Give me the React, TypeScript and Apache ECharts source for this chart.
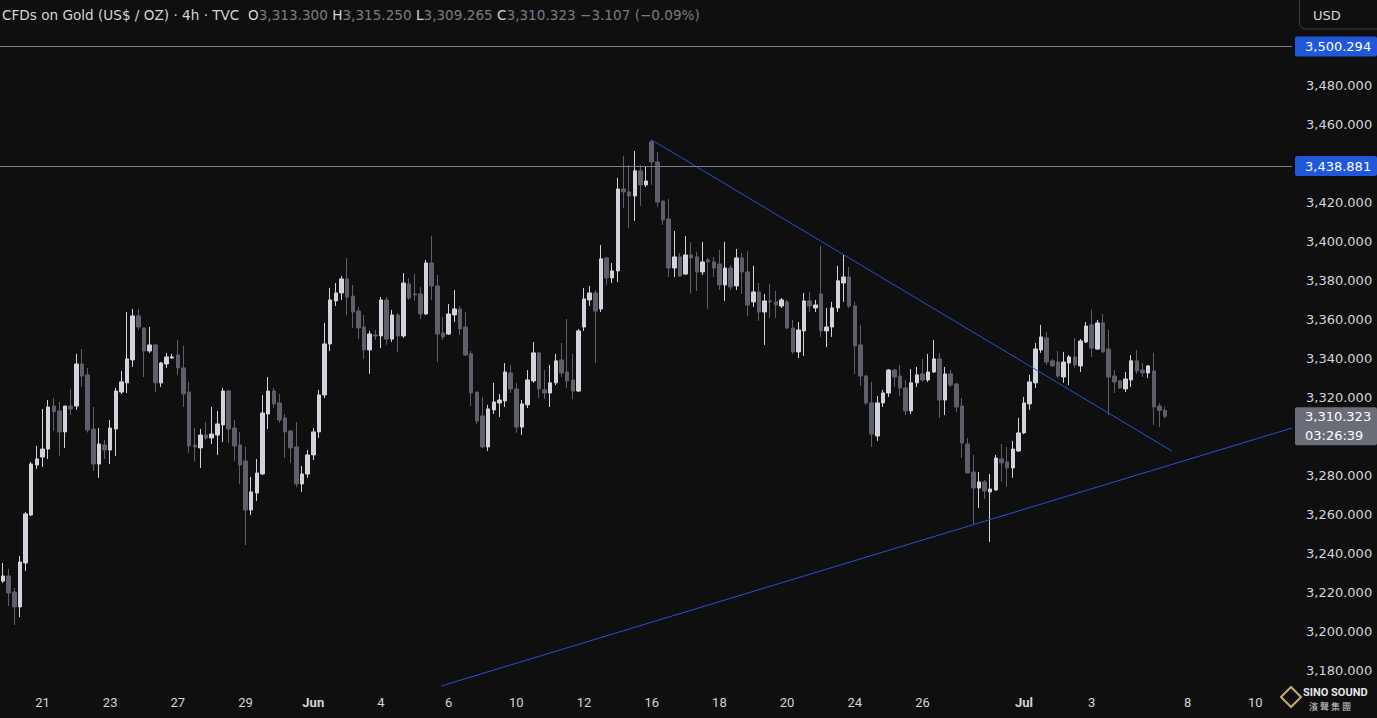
import React, { useEffect, useRef } from "react";
import * as echarts from "echarts";

// ---------- data ----------
const SYMBOL_TITLE = "CFDs on Gold (US$ / OZ) · 4h · TVC";
const SLOT_COUNT = 229; // candle slots incl. empty future space
const COUNTDOWN = "03:26:39";

// [open, close, low, high]
const candles: number[][] = [
  [3225.7, 3228.3, 3224.7, 3235.0], [3228.3, 3219.6, 3212.9, 3231.9], [3220.1, 3212.4, 3203.1, 3222.1], [3212.4, 3235.5, 3207.2, 3238.6],
  [3235.0, 3260.2, 3230.9, 3261.2], [3259.6, 3285.8, 3259.1, 3286.9], [3285.3, 3288.4, 3283.3, 3295.1], [3289.4, 3293.5, 3284.3, 3314.1],
  [3293.5, 3315.1, 3288.4, 3318.7], [3315.6, 3312.6, 3302.8, 3319.7], [3313.1, 3302.3, 3290.0, 3317.7], [3302.3, 3315.6, 3294.0, 3315.6],
  [3315.6, 3314.1, 3311.0, 3324.4], [3315.6, 3337.2, 3313.6, 3342.4], [3337.2, 3331.0, 3325.4, 3344.9], [3331.6, 3303.3, 3302.0, 3335.2],
  [3303.8, 3285.8, 3282.3, 3315.1], [3285.8, 3296.1, 3278.7, 3304.3], [3295.6, 3293.0, 3288.4, 3298.2], [3293.0, 3304.3, 3285.8, 3308.4],
  [3303.8, 3323.3, 3290.0, 3324.9], [3322.8, 3328.0, 3321.8, 3333.6], [3327.5, 3339.8, 3322.3, 3363.9], [3339.3, 3361.9, 3335.7, 3365.5],
  [3361.9, 3356.2, 3354.7, 3365.5], [3355.7, 3343.9, 3330.5, 3355.7], [3343.9, 3347.0, 3342.9, 3356.2], [3347.0, 3327.5, 3322.8, 3347.5],
  [3327.5, 3337.7, 3325.4, 3338.2], [3337.2, 3340.8, 3335.2, 3342.9], [3340.3, 3340.8, 3339.8, 3342.4], [3341.8, 3335.2, 3331.6, 3349.5],
  [3335.2, 3321.8, 3315.1, 3346.5], [3322.8, 3295.1, 3291.5, 3328.0], [3295.6, 3294.6, 3286.9, 3304.3], [3294.1, 3300.7, 3283.8, 3303.8],
  [3300.7, 3299.2, 3298.2, 3307.4], [3299.2, 3301.2, 3296.1, 3315.1], [3300.7, 3306.4, 3290.5, 3313.1], [3305.9, 3323.3, 3297.1, 3324.9],
  [3323.3, 3303.8, 3296.6, 3323.9], [3304.3, 3295.1, 3287.4, 3308.4], [3295.6, 3285.3, 3275.6, 3302.3], [3287.4, 3262.2, 3244.2, 3294.6],
  [3262.2, 3271.5, 3259.6, 3279.2], [3270.9, 3281.2, 3266.8, 3288.4], [3280.7, 3312.0, 3280.2, 3321.3], [3311.5, 3323.3, 3303.8, 3330.5],
  [3323.3, 3316.7, 3314.6, 3324.9], [3317.2, 3308.4, 3306.9, 3321.8], [3309.5, 3302.3, 3288.9, 3311.5], [3302.8, 3294.1, 3286.4, 3303.3],
  [3294.6, 3275.6, 3274.0, 3307.4], [3275.6, 3280.7, 3271.5, 3284.8], [3280.7, 3290.5, 3278.7, 3293.0], [3290.5, 3302.3, 3287.9, 3304.3],
  [3302.3, 3321.3, 3299.2, 3323.9], [3321.3, 3347.5, 3319.7, 3358.3], [3347.5, 3370.1, 3343.9, 3376.3], [3369.6, 3373.7, 3367.0, 3378.8],
  [3373.7, 3380.9, 3370.1, 3382.4], [3380.9, 3371.6, 3362.4, 3391.7], [3372.1, 3363.9, 3355.7, 3377.8], [3364.4, 3355.7, 3350.0, 3366.5],
  [3356.2, 3344.4, 3339.8, 3362.4], [3344.4, 3352.6, 3332.1, 3354.2], [3352.1, 3351.6, 3349.5, 3354.7], [3351.6, 3370.1, 3345.4, 3371.6],
  [3370.1, 3350.0, 3347.0, 3371.6], [3350.0, 3362.4, 3348.5, 3365.0], [3362.4, 3351.6, 3343.4, 3363.4], [3351.6, 3378.8, 3350.6, 3383.9],
  [3378.3, 3371.1, 3370.1, 3381.4], [3373.2, 3372.7, 3369.6, 3383.4], [3373.2, 3362.9, 3360.3, 3376.8], [3362.9, 3389.1, 3362.4, 3390.6],
  [3389.1, 3377.3, 3370.1, 3402.9], [3377.3, 3352.6, 3338.2, 3382.9], [3353.1, 3351.1, 3349.5, 3361.4], [3352.6, 3362.9, 3352.1, 3368.0],
  [3362.4, 3365.5, 3358.8, 3375.2], [3365.5, 3355.2, 3352.1, 3367.0], [3356.2, 3341.8, 3341.3, 3363.9], [3342.4, 3322.3, 3315.6, 3343.9],
  [3322.8, 3307.9, 3306.4, 3322.8], [3310.5, 3294.6, 3294.1, 3320.3], [3294.6, 3314.1, 3292.5, 3316.2], [3313.6, 3317.7, 3311.5, 3327.5],
  [3317.2, 3318.7, 3310.0, 3321.8], [3318.2, 3333.1, 3315.1, 3337.7], [3332.6, 3324.4, 3322.3, 3336.7], [3324.4, 3304.8, 3301.8, 3327.5],
  [3304.8, 3316.7, 3300.7, 3318.7], [3316.2, 3329.0, 3314.6, 3334.1], [3328.5, 3342.9, 3327.5, 3348.5], [3342.9, 3324.4, 3319.7, 3343.4],
  [3323.9, 3322.3, 3319.2, 3334.1], [3322.3, 3327.5, 3315.1, 3336.7], [3327.5, 3338.8, 3326.4, 3342.4], [3339.3, 3332.6, 3330.5, 3348.0],
  [3333.1, 3328.5, 3324.9, 3360.3], [3329.0, 3323.3, 3319.2, 3342.4], [3323.3, 3354.2, 3322.8, 3355.2], [3356.2, 3370.6, 3354.2, 3376.3],
  [3370.1, 3373.7, 3367.0, 3377.3], [3373.7, 3364.4, 3337.7, 3375.2], [3365.5, 3391.2, 3363.9, 3398.3], [3391.7, 3381.4, 3377.8, 3392.2],
  [3381.4, 3385.0, 3378.8, 3389.1], [3385.0, 3427.1, 3379.3, 3432.8], [3427.1, 3425.6, 3417.3, 3444.1], [3425.6, 3423.5, 3407.1, 3439.4],
  [3423.5, 3436.4, 3410.7, 3446.6], [3436.4, 3429.2, 3418.4, 3439.4], [3429.2, 3431.2, 3428.1, 3438.9], [3451.3, 3441.0, 3429.2, 3452.3],
  [3441.0, 3420.4, 3417.9, 3446.1], [3420.9, 3411.2, 3408.6, 3420.9], [3411.7, 3386.5, 3381.9, 3422.0], [3386.5, 3392.2, 3381.9, 3405.5],
  [3392.2, 3382.4, 3381.9, 3394.3], [3383.4, 3393.2, 3382.9, 3402.9], [3393.2, 3391.7, 3373.2, 3399.9], [3392.2, 3384.5, 3374.7, 3394.8],
  [3384.5, 3389.6, 3382.9, 3399.9], [3390.6, 3389.6, 3365.5, 3391.7], [3389.6, 3386.5, 3381.9, 3392.2], [3388.6, 3377.8, 3375.2, 3395.8],
  [3377.8, 3386.5, 3369.6, 3399.9], [3386.5, 3376.8, 3375.2, 3388.1], [3377.3, 3391.7, 3375.2, 3396.3], [3391.7, 3384.5, 3373.2, 3394.3],
  [3384.5, 3367.5, 3361.9, 3395.3], [3369.1, 3374.2, 3366.5, 3387.6], [3374.2, 3363.9, 3359.3, 3378.8], [3363.9, 3369.6, 3347.0, 3373.2],
  [3369.6, 3369.1, 3360.8, 3378.3], [3369.1, 3367.5, 3360.8, 3374.7], [3367.0, 3370.1, 3366.0, 3371.1], [3369.1, 3355.7, 3355.2, 3370.1],
  [3355.7, 3343.4, 3342.4, 3359.8], [3343.4, 3354.7, 3340.3, 3358.8], [3354.2, 3369.6, 3341.3, 3373.7], [3369.6, 3367.0, 3363.9, 3374.2],
  [3366.0, 3367.5, 3363.9, 3370.1], [3373.2, 3354.2, 3351.1, 3397.8], [3354.2, 3356.2, 3345.9, 3366.0], [3356.2, 3366.0, 3351.1, 3369.1],
  [3366.0, 3379.9, 3363.9, 3387.6], [3378.8, 3381.9, 3369.1, 3393.2], [3381.9, 3367.0, 3366.0, 3387.0], [3367.0, 3346.5, 3332.1, 3369.1],
  [3347.0, 3331.0, 3325.9, 3357.3], [3331.0, 3317.2, 3316.2, 3331.6], [3317.2, 3301.2, 3294.6, 3328.0], [3300.2, 3317.2, 3297.7, 3320.8],
  [3317.2, 3322.3, 3315.1, 3323.9], [3322.3, 3334.1, 3320.3, 3334.6], [3334.1, 3330.5, 3325.4, 3334.6], [3331.0, 3324.9, 3320.8, 3336.7],
  [3324.9, 3313.1, 3311.0, 3329.0], [3313.1, 3327.5, 3311.5, 3334.6], [3327.5, 3331.6, 3325.4, 3335.7], [3332.1, 3329.0, 3328.0, 3339.8],
  [3329.0, 3333.1, 3328.0, 3342.4], [3333.1, 3339.8, 3332.6, 3349.5], [3339.8, 3318.7, 3309.5, 3342.9], [3318.7, 3332.1, 3311.0, 3335.7],
  [3332.1, 3326.4, 3325.4, 3334.1], [3326.9, 3315.1, 3312.6, 3327.5], [3315.6, 3296.6, 3288.9, 3319.7], [3296.1, 3281.2, 3281.2, 3299.2],
  [3281.7, 3273.5, 3255.0, 3290.5], [3273.5, 3276.6, 3263.2, 3281.7], [3276.6, 3272.0, 3267.9, 3277.6], [3271.5, 3273.0, 3245.8, 3280.7],
  [3272.5, 3288.9, 3272.0, 3290.5], [3288.4, 3286.4, 3276.6, 3296.1], [3286.9, 3283.8, 3274.0, 3294.6], [3283.8, 3293.5, 3278.7, 3297.7],
  [3292.5, 3301.8, 3292.0, 3309.5], [3301.8, 3317.2, 3301.2, 3320.3], [3316.7, 3328.0, 3313.6, 3331.6], [3327.5, 3344.9, 3324.9, 3348.0],
  [3344.4, 3351.1, 3342.9, 3357.3], [3350.6, 3338.2, 3336.7, 3353.7], [3338.8, 3336.2, 3335.7, 3339.8], [3338.2, 3331.0, 3330.0, 3343.9],
  [3330.5, 3338.2, 3327.5, 3343.4], [3337.7, 3340.8, 3326.4, 3341.8], [3340.8, 3336.7, 3335.2, 3350.6], [3336.2, 3349.0, 3333.1, 3350.0],
  [3348.5, 3356.7, 3348.0, 3358.8], [3357.3, 3345.4, 3340.8, 3365.0], [3344.9, 3358.3, 3344.4, 3359.8], [3358.3, 3343.4, 3342.9, 3362.9],
  [3344.9, 3330.5, 3311.0, 3354.7], [3331.0, 3328.0, 3322.3, 3334.1], [3328.5, 3324.9, 3324.4, 3329.0], [3324.4, 3329.5, 3322.8, 3333.1],
  [3329.0, 3338.8, 3325.4, 3341.8], [3338.8, 3333.6, 3332.1, 3344.4], [3334.1, 3332.6, 3330.5, 3337.7], [3332.6, 3336.2, 3330.0, 3336.7],
  [3333.6, 3315.1, 3305.9, 3342.9], [3315.6, 3313.43, 3304.8, 3317.2], [3313.3, 3310.323, 3309.265, 3315.25],
];

const dateTickIndex = [7, 19, 31, 43, 55, 67, 79, 91, 103, 115, 127, 139, 151, 163, 181, 193, 210, 222];
const dateTickText = ["21", "23", "27", "29", "Jun", "4", "6", "10", "12", "16", "18", "20", "24", "26", "Jul", "3", "8", "10"];
const monthNames = ["Jun", "Jul"];

const Y_MIN = 3180;
const Y_MAX = 3520;
const Y_STEP = 20;
const hiddenYTicks = [3300, 3440, 3500, 3520];

const levelPrices = [3500.294, 3438.881];
// trend lines: [slot index, price]
const trendDown = [[115, 3452.3], [207.2, 3292.5]];
const trendUp = [[77.7, 3171.8], [228.5, 3304.3]];

// ---------- style ----------
const BG = "#0f0f0f";
const UP = "#d1d4dc";
const DOWN = "#5d606b";
const TEXT = "#d1d4dc";
const BLUE = "#2157d9";
const LINE_BLUE = "#2451d6";
const LEVEL_LINE = "#7b7e88";
const FONT = "'DejaVu Sans', sans-serif";
const XFONT = "Roboto, 'Noto Sans', sans-serif";
const HEADER_SIZE = 13.6;
const GRID_RIGHT = 85;

const fmt = (v: number) =>
  v.toLocaleString("en-US", { minimumFractionDigits: 3, maximumFractionDigits: 3 });

export default function App() {
  const ref = useRef<HTMLDivElement>(null);

  useEffect(() => {
    if (!ref.current) return;
    const chart = echarts.init(ref.current, null, { renderer: "svg" });
    const categories = Array.from({ length: SLOT_COUNT }, (_, i) => "s" + i);
    const labelMap: Record<number, string> = {};
    dateTickIndex.forEach((idx, k) => (labelMap[idx] = dateTickText[k]));

    chart.setOption({
      animation: false,
      backgroundColor: BG,
      grid: { left: 0, right: GRID_RIGHT, top: 8.13, bottom: 48, containLabel: false },
      xAxis: [
        {
          type: "category",
          data: categories,
          boundaryGap: true,
          axisLine: { show: false },
          axisTick: { show: false },
          splitLine: { show: false },
          axisLabel: {
            interval: 0,
            margin: 26,
            color: TEXT,
            fontSize: 13,
            fontFamily: XFONT,
            formatter: (_v: string, i: number) => {
              const t = labelMap[i];
              if (!t) return "";
              return monthNames.includes(t) ? "{m|" + t + "}" : t;
            },
            rich: { m: { fontWeight: "bold", color: TEXT, fontSize: 13, fontFamily: XFONT } },
          },
        },
        { type: "value", min: -0.5, max: SLOT_COUNT - 0.5, show: false },
      ],
      yAxis: {
        type: "value",
        position: "right",
        min: Y_MIN,
        max: Y_MAX,
        interval: Y_STEP,
        axisLine: { show: false },
        axisTick: { show: false },
        splitLine: { show: false },
        axisLabel: {
          margin: 14,
          color: TEXT,
          fontSize: 13,
          fontFamily: FONT,
          formatter: (v: number) => (hiddenYTicks.includes(v) ? "" : fmt(v)),
        },
      },
      series: [
        {
          type: "candlestick",
          xAxisIndex: 0,
          yAxisIndex: 0,
          data: candles,
          barWidth: 4,
          itemStyle: { color: UP, color0: DOWN, borderColor: UP, borderColor0: DOWN, borderWidth: 1 },
          markLine: {
            symbol: "none",
            silent: true,
            label: { show: false },
            lineStyle: { color: LEVEL_LINE, width: 1, type: "solid" },
            data: levelPrices.map((p) => ({ yAxis: p })),
          },
        },
        {
          type: "line",
          xAxisIndex: 1,
          yAxisIndex: 0,
          data: trendDown,
          symbol: "none",
          clip: false,
          lineStyle: { color: LINE_BLUE, width: 1 },
        },
        {
          type: "line",
          xAxisIndex: 1,
          yAxisIndex: 0,
          data: trendUp,
          symbol: "none",
          clip: false,
          lineStyle: { color: LINE_BLUE, width: 1 },
        },
      ],
    });

    const last = candles[candles.length - 1];
    const prev = candles[candles.length - 2];
    const change = last[1] - prev[1];
    const pct = (change / prev[1]) * 100;
    const sign = (v: number) => (v < 0 ? "\u2212" : "+");

    const yOf = (v: number) => chart.convertToPixel({ yAxisIndex: 0 }, v) as number;
    const boxX = 1377 - GRID_RIGHT + 3;
    const boxW = 82;

    const graphics: any[] = [];
    levelPrices.forEach((p) => {
      const y = yOf(p);
      graphics.push({
        type: "group",
        children: [
          { type: "rect", shape: { x: boxX, y: y - 10, width: boxW, height: 20, r: 2 }, style: { fill: BLUE } },
          {
            type: "text",
            x: boxX + 10,
            y,
            style: { text: fmt(p), fill: "#ffffff", fontSize: 13, fontFamily: FONT, verticalAlign: "middle" },
          },
        ],
      });
    });
    const yc = yOf(last[1]);
    graphics.push({
      type: "group",
      children: [
        { type: "rect", shape: { x: boxX, y: yc - 9, width: boxW, height: 38, r: 2 }, style: { fill: "#6a6d78" } },
        {
          type: "text",
          x: boxX + 10,
          y: yc,
          style: { text: fmt(last[1]), fill: "#ffffff", fontSize: 13, fontFamily: FONT, verticalAlign: "middle" },
        },
        {
          type: "text",
          x: boxX + 10,
          y: yc + 19,
          style: { text: COUNTDOWN, fill: "#ffffff", fontSize: 13, fontFamily: FONT, verticalAlign: "middle" },
        },
      ],
    });
    // header
    graphics.push({
      type: "text",
      x: 2,
      y: 15,
      style: {
        text:
          "{t|" + SYMBOL_TITLE + "}  " +
          "{k|O}{v|" + fmt(last[0]) + "} {k|H}{v|" + fmt(last[3]) + "} {k|L}{v|" + fmt(last[2]) +
          "} {k|C}{v|" + fmt(last[1]) + "} {v|" + sign(change) + Math.abs(change).toFixed(3) +
          " (" + sign(pct) + Math.abs(pct).toFixed(2) + "%)}",
        verticalAlign: "middle",
        fontSize: HEADER_SIZE,
        fontFamily: FONT,
        fill: TEXT,
        rich: {
          t: { fill: TEXT, fontSize: HEADER_SIZE, fontFamily: FONT },
          k: { fill: TEXT, fontSize: HEADER_SIZE, fontFamily: FONT },
          v: { fill: "#787b86", fontSize: HEADER_SIZE, fontFamily: FONT },
        },
      },
    });
    // USD button
    graphics.push({
      type: "group",
      children: [
        { type: "rect", shape: { x: 1299.5, y: -6, width: 84, height: 35, r: 6 }, style: { fill: BG, stroke: "#3a3d45", lineWidth: 1 } },
        { type: "text", x: 1313, y: 15, style: { text: "USD", fill: TEXT, fontSize: 13, fontFamily: FONT, verticalAlign: "middle" } },
      ],
    });
    // logo
    graphics.push({
      type: "group",
      children: [
        { type: "rect", shape: { x: 1278, y: 684, width: 99, height: 34 }, style: { fill: BG } },
        { type: "polygon", shape: { points: [[1291, 687], [1301, 697], [1291, 707], [1281, 697]] }, style: { fill: "none", stroke: "#c9a96a", lineWidth: 2 } },
        { type: "text", x: 1303, y: 692, style: { text: "SINO SOUND", fill: "#e6e6e6", fontSize: 11, fontWeight: "bold", fontFamily: XFONT, verticalAlign: "middle" } },
        { type: "text", x: 1309, y: 706, style: { text: "濱 聲 集 團", fill: "#cfcfcf", fontSize: 9, fontFamily: "'Noto Sans CJK TC'", verticalAlign: "middle" } },
      ],
    });

    chart.setOption({ graphic: graphics });

    return () => chart.dispose();
  }, []);

  return <div ref={ref} style={{ position: "fixed", left: 0, top: 0, width: 1377, height: 718 }} />;
}
